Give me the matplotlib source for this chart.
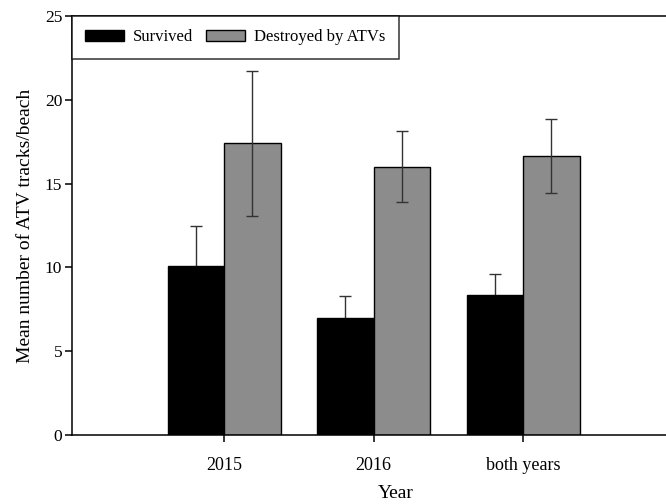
import numpy as np
import matplotlib
matplotlib.use('Agg')
import matplotlib.pyplot as plt

plt.rcParams['font.family'] = ['Liberation Serif', 'DejaVu Serif']

# mean ATV tracks per beach, +/- SE
years = ['2015', '2016', 'both years']
survived = [10.1, 6.96, 8.35]
survived_err = [2.39, 1.31, 1.25]
destroyed = [17.4, 16.01, 16.65]
destroyed_err = [4.33, 2.11, 2.2]

W, H = 666, 504
fig = plt.figure(figsize=(W / 100, H / 100), dpi=100)
# axes runs off the right edge, so only left/bottom/top frame show
ax = fig.add_axes([72 / W, 69 / H, 648 / W, 419 / H])

x = np.arange(len(years))
bw = 0.378
ekw = dict(elinewidth=1.0, capthick=1.0)

ax.bar(x - bw / 2, survived, bw, color='black', edgecolor='black', lw=1.0,
       label='Survived', zorder=2)
ax.errorbar(x - bw / 2, survived, yerr=survived_err, fmt='none', ecolor='#333333',
            capsize=4.5, zorder=1, **ekw)  # lower half hidden behind black bar
ax.bar(x + bw / 2, destroyed, bw, color='#8c8c8c', edgecolor='black', lw=1.0,
       label='Destroyed by ATVs', zorder=2)
ax.errorbar(x + bw / 2, destroyed, yerr=destroyed_err, fmt='none', ecolor='#333333',
            capsize=4.5, zorder=3, **ekw)

ax.set_xlim(-1.017, -1.017 + 648 / 149.5)
ax.set_ylim(0, 25)
ax.set_yticks([0, 5, 10, 15, 20, 25])
ax.set_xticks(x)
ax.set_xticklabels(years)
ax.tick_params(axis='y', direction='out', length=5, width=1.1, pad=2, labelsize=12.5)
ax.tick_params(axis='x', direction='out', length=5, width=1.1, pad=11, labelsize=13)
for s in ax.spines.values():
    s.set_linewidth(1.1)

ax.set_ylabel('Mean number of ATV tracks/beach', fontsize=14, labelpad=8)
ax.set_xlabel('Year', fontsize=14, labelpad=8)

leg = ax.legend(loc='upper left', ncol=2, fontsize=12, frameon=True, fancybox=False,
                borderaxespad=0, borderpad=0.8, handlelength=2.3, handleheight=0.72,
                handletextpad=0.55, columnspacing=0.8)
leg.get_frame().set_edgecolor('black')
leg.get_frame().set_linewidth(1.1)

fig.savefig('out.png', dpi=100)
